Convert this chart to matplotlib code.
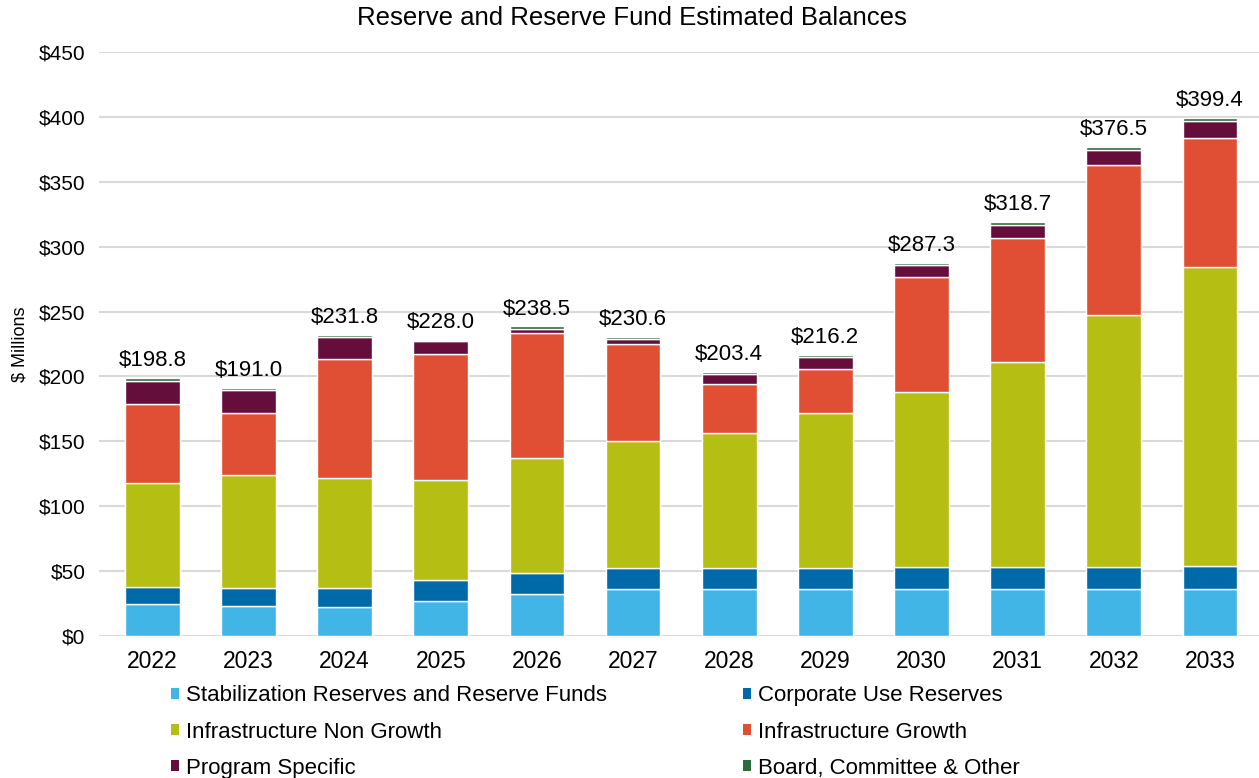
import numpy as np
import matplotlib
matplotlib.use("Agg")
import matplotlib.pyplot as plt
from matplotlib.patches import Patch

plt.rcParams['font.family'] = ['Liberation Sans', 'DejaVu Sans']

# data ($ millions)
years = ['2022', '2023', '2024', '2025', '2026', '2027',
         '2028', '2029', '2030', '2031', '2032', '2033']
stabilization = [24.6, 23.4, 22.1, 27.2, 32.4, 36.0, 36.0, 36.0, 35.9, 35.9, 35.9, 35.9]
corporate = [12.8, 13.8, 15.1, 15.9, 16.4, 16.6, 16.6, 16.6, 17.3, 17.3, 17.3, 18.4]
non_growth = [80.5, 86.8, 84.8, 76.9, 88.6, 97.6, 103.8, 119.0, 134.5, 157.7, 194.4, 229.7]
growth = [60.8, 47.6, 91.4, 97.3, 95.8, 75.0, 37.5, 34.3, 89.1, 95.8, 115.1, 100.0]
program = [18.1, 17.6, 16.9, 9.7, 3.5, 3.8, 8.1, 8.7, 8.9, 10.2, 11.8, 13.0]
board = [2.0, 1.8, 1.5, 1.0, 1.8, 1.6, 1.4, 1.6, 1.6, 1.8, 2.0, 2.4]
totals = [198.8, 191.0, 231.8, 228.0, 238.5, 230.6, 203.4, 216.2, 287.3, 318.7, 376.5, 399.4]

series = [
    ("Stabilization Reserves and Reserve Funds", stabilization, "#41b6e6"),
    ("Corporate Use Reserves", corporate, "#0069a7"),
    ("Infrastructure Non Growth", non_growth, "#b5be12"),
    ("Infrastructure Growth", growth, "#e04e33"),
    ("Program Specific", program, "#650d3b"),
    ("Board, Committee & Other", board, "#2e6b3a"),
]

fig = plt.figure(figsize=(12.59, 7.78), dpi=100)
ax = fig.add_axes([0.079, 0.1825, 0.921, 0.7507])

x = np.arange(len(years))
bottom = np.zeros(len(years))
for name, vals, col in series:
    ax.bar(x, vals, 0.57, bottom=bottom, color=col, edgecolor='white',
           linewidth=1.0, label=name, zorder=3)
    bottom += np.array(vals)

for xi, top, tot in zip(x, bottom, totals):
    ax.annotate(f"${tot:.1f}", (xi, top), xytext=(0, 5), textcoords='offset points',
                ha='center', va='bottom', fontsize=16)

ax.set_ylim(0, 450)
ax.set_xlim(-0.55, 11.51)
ax.set_yticks(np.arange(0, 451, 50))
ax.set_yticklabels([f"${v}" for v in range(0, 451, 50)])
ax.set_xticks(x)
ax.set_xticklabels(years)
ax.tick_params(axis='both', length=0)
ax.tick_params(axis='x', pad=10, labelsize=16.5)
ax.tick_params(axis='y', pad=10, labelsize=15)
ax.grid(axis='y', color='#d9d9d9', linewidth=1.5, zorder=0)
for s in ax.spines.values():
    s.set_visible(False)

ax.set_ylabel("$ Millions", fontsize=13)
ax.yaxis.set_label_coords(-0.061, 0.5)

fig.text(0.502, 0.977, "Reserve and Reserve Fund Estimated Balances",
         fontsize=18.5, ha='center', va='center')

# legend: column-wise order so rows pair up as in the original
order = [0, 2, 4, 1, 3, 5]
handles = [Patch(facecolor=series[i][2], label=series[i][0]) for i in order]
fig.legend(handles=handles, loc='upper left', bbox_to_anchor=(0.136, 0.119),
           ncol=2, frameon=False, fontsize=16, handlelength=0.36,
           handleheight=0.36, handletextpad=0.32, labelspacing=0.68,
           columnspacing=6.1, borderaxespad=0, borderpad=0)

fig.savefig("out.png", dpi=100)
